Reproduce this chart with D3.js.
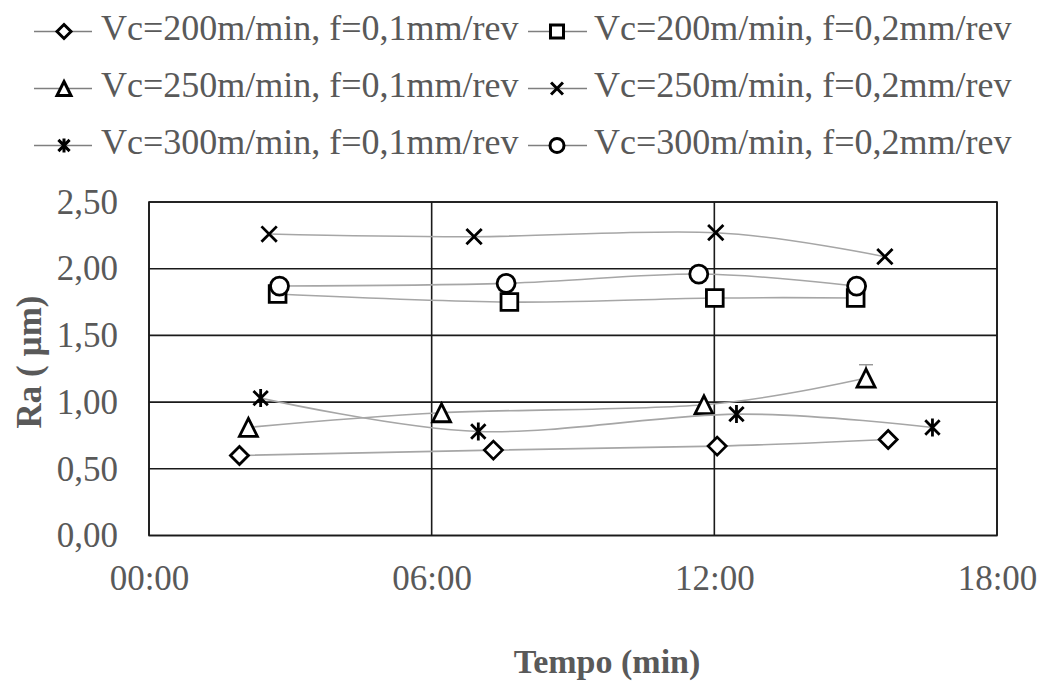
<!DOCTYPE html>
<html><head><meta charset="utf-8">
<script src="https://cdn.jsdelivr.net/npm/d3@7"></script>
<style>body{margin:0;background:#fff}</style>
</head><body>
<svg id="c" width="1041" height="683"></svg>
<script>
// ---- data (time in minutes, Ra in µm) ----
const seriesNames = [
  "Vc=200m/min, f=0,1mm/rev", "Vc=200m/min, f=0,2mm/rev",
  "Vc=250m/min, f=0,1mm/rev", "Vc=250m/min, f=0,2mm/rev",
  "Vc=300m/min, f=0,1mm/rev", "Vc=300m/min, f=0,2mm/rev"
];
const markerTypes = ["diamond", "square", "triangle", "x", "star", "circle"];
const time200_01 = [1.92, 7.31, 12.06, 15.69];
const ra200_01   = [0.60, 0.64, 0.67, 0.72];
const time200_02 = [2.73, 7.65, 12.01, 15.00];
const ra200_02   = [1.81, 1.75, 1.78, 1.78];
const time250_01 = [2.11, 6.21, 11.78, 15.22];
const ra250_01   = [0.81, 0.92, 0.98, 1.18];
const err250_01  = [0, 0, 0, 0.10];
const time250_02 = [2.55, 6.90, 12.03, 15.62];
const ra250_02   = [2.26, 2.24, 2.27, 2.09];
const time300_01 = [2.37, 6.99, 12.47, 16.63];
const ra300_01   = [1.03, 0.78, 0.91, 0.81];
const time300_02 = [2.77, 7.58, 11.67, 15.02];
const ra300_02   = [1.87, 1.89, 1.96, 1.87];
const xTicks = [0, 6, 12, 18];
const xTickLabels = ["00:00", "06:00", "12:00", "18:00"];
const yTicks = [0, 0.5, 1.0, 1.5, 2.0, 2.5];

const seriesTimes = [time200_01, time200_02, time250_01, time250_02, time300_01, time300_02];
const seriesRa = [ra200_01, ra200_02, ra250_01, ra250_02, ra300_01, ra300_02];
const seriesErr = [null, null, err250_01, null, null, null];

// ---- layout ----
const svg = d3.select("#c");
const L = 149, R = 997, T = 202, B = 535.5;
const x = d3.scaleLinear().domain([0, 18]).range([L, R]);
const y = d3.scaleLinear().domain([0, 2.5]).range([B, T]);
const FONT = "'Liberation Serif','Times New Roman',serif";
const TXT = "#595959";

function markerPath(type, s) {
  const r = s / 2;
  switch (type) {
    case "diamond": return `M0,${-r}L${r},0L0,${r}L${-r},0Z`;
    case "square": return `M${-r*0.93},${-r*0.93}H${r*0.93}V${r*0.93}H${-r*0.93}Z`;
    case "triangle": return `M0,${-r}L${r},${r}L${-r},${r}Z`;
    case "x": { const a = r*0.85; return `M${-a},${-a}L${a},${a}M${-a},${a}L${a},${-a}`; }
    case "star": { const a = r*0.8; return `M${-a},${-a}L${a},${a}M${-a},${a}L${a},${-a}M0,${-r}L0,${r}`; }
    case "circle": return `M${r},0A${r},${r} 0 1,1 ${-r},0A${r},${r} 0 1,1 ${r},0Z`;
  }
}

// gridlines
const g = svg.append("g");
g.selectAll("line.h").data(yTicks).join("line")
  .attr("x1", L).attr("x2", R).attr("y1", d => y(d)).attr("y2", d => y(d))
  .attr("stroke", "#1a1a1a").attr("stroke-width", 1.6);
g.selectAll("line.v").data(xTicks).join("line")
  .attr("y1", T).attr("y2", B).attr("x1", d => x(d)).attr("x2", d => x(d))
  .attr("stroke", "#1a1a1a").attr("stroke-width", 1.6);

// axes labels
const yAxis = d3.axisLeft(y).tickValues(yTicks).tickSize(0).tickPadding(31)
  .tickFormat(d => d3.format(".2f")(d).replace(".", ","));
svg.append("g").attr("transform", `translate(${L},0)`).call(yAxis)
  .call(a => a.select(".domain").remove())
  .selectAll("text").attr("font-family", FONT).attr("font-size", 35).attr("fill", TXT);

const xAxis = d3.axisBottom(x).tickValues(xTicks).tickSize(0).tickPadding(30)
  .tickFormat((d, i) => xTickLabels[i]);
svg.append("g").attr("transform", `translate(0,${B})`).call(xAxis)
  .call(a => a.select(".domain").remove())
  .selectAll("text").attr("font-family", FONT).attr("font-size", 35).attr("fill", TXT);

// axis titles
svg.append("text").attr("x", 607).attr("y", 673).attr("text-anchor", "middle")
  .attr("font-family", FONT).attr("font-size", 34).attr("font-weight", "bold").attr("fill", TXT)
  .text("Tempo (min)");
svg.append("text").attr("transform", "translate(41,362) rotate(-90)").attr("text-anchor", "middle")
  .attr("font-family", FONT).attr("font-size", 35).attr("font-weight", "bold").attr("fill", TXT)
  .text("Ra ( µm)");

// series
const line = d3.line().x(d => x(d[0])).y(d => y(d[1])).curve(d3.curveCardinal);
seriesNames.forEach((name, i) => {
  const pts = seriesTimes[i].map((t, k) => [t, seriesRa[i][k], seriesErr[i] ? seriesErr[i][k] : 0]);
  const sg = svg.append("g");
  sg.append("path").attr("d", line(pts)).attr("fill", "none")
    .attr("stroke", "#a6a6a6").attr("stroke-width", 1.6);
  pts.filter(p => p[2] > 0).forEach(p => {
    sg.append("line").attr("x1", x(p[0])).attr("x2", x(p[0])).attr("y1", y(p[1])).attr("y2", y(p[1] + p[2]))
      .attr("stroke", "#8c8c8c").attr("stroke-width", 1.3);
    sg.append("line").attr("x1", x(p[0]) - 7).attr("x2", x(p[0]) + 7).attr("y1", y(p[1] + p[2])).attr("y2", y(p[1] + p[2]))
      .attr("stroke", "#8c8c8c").attr("stroke-width", 1.3);
  });
  sg.selectAll("path.m").data(pts).join("path").attr("class", "m")
    .attr("transform", d => `translate(${x(d[0])},${y(d[1])})`)
    .attr("d", markerPath(markerTypes[i], 18))
    .attr("fill", "#fff").attr("stroke", "#000").attr("stroke-width", 2.8)
    .attr("stroke-linejoin", "miter");
});

// plot border
svg.append("rect").attr("x", L).attr("y", T).attr("width", R - L).attr("height", B - T)
  .attr("fill", "none").attr("stroke", "#1a1a1a").attr("stroke-width", 1.6);

// legend
const legCols = [{lx1: 34, lx2: 92, mx: 64, tx: 101}, {lx1: 528, lx2: 587, mx: 557, tx: 594}];
const legRows = [31.5, 88.5, 145.5];
seriesNames.forEach((name, i) => {
  const c = legCols[i % 2], ry = legRows[Math.floor(i / 2)];
  const lg = svg.append("g");
  lg.append("line").attr("x1", c.lx1).attr("x2", c.lx2).attr("y1", ry).attr("y2", ry)
    .attr("stroke", "#7f7f7f").attr("stroke-width", 1.4);
  lg.append("path").attr("transform", `translate(${c.mx},${ry})`)
    .attr("d", markerPath(markerTypes[i], 14))
    .attr("fill", "#fff").attr("stroke", "#000").attr("stroke-width", 3);
  lg.append("text").attr("x", c.tx).attr("y", ry + 8)
    .attr("font-family", FONT).attr("font-size", 36).attr("fill", TXT).text(name);
});
</script>
</body></html>
